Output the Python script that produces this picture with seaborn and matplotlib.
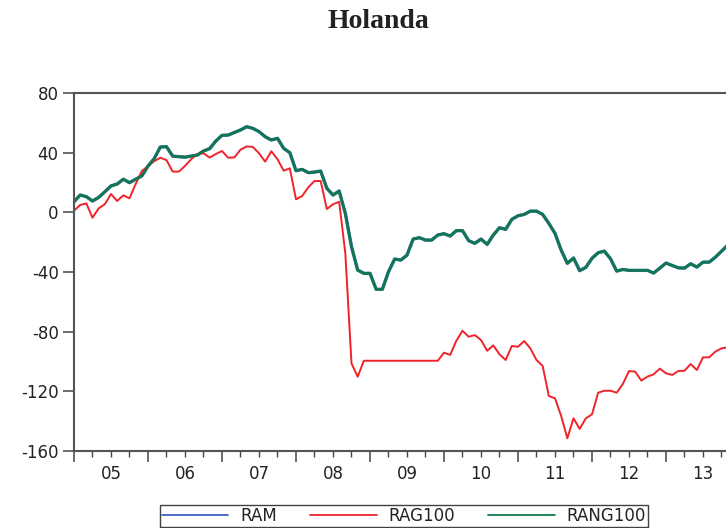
import numpy as np
import pandas as pd
import matplotlib
matplotlib.use("Agg")
import matplotlib.pyplot as plt
import seaborn as sns
from matplotlib.lines import Line2D
from matplotlib.ticker import FixedLocator, FuncFormatter

# ─────────────────────────────
# Data (monthly, starting 2005M01)
# ─────────────────────────────
START_YEAR = 2005

rang100 = [
    7.1, 11.6, 10.5, 7.6, 10.0, 13.8, 17.7, 19.0, 22.2, 19.9, 22.2, 24.4,
    31.0, 36.0, 43.8, 44.0, 37.7, 37.3, 37.0, 37.7, 38.4, 41.1, 42.7, 47.8,
    51.6, 51.8, 53.5, 55.2, 57.4, 56.3, 54.1, 50.7, 48.5, 49.6, 42.9, 40.0,
    27.9, 28.8, 26.6, 27.0, 27.7, 16.1, 11.6, 14.3, -0.7, -23.0, -38.7, -40.9,
    -40.9, -51.6, -51.6, -39.8, -31.3, -32.0, -28.7, -17.9, -17.0, -18.6, -18.6, -15.2,
    -14.3, -15.9, -12.3, -12.3, -19.0, -20.8, -17.9, -21.5, -15.2, -10.3, -11.4, -4.7,
    -2.3, -1.4, 0.8, 0.8, -1.4, -7.4, -14.1, -25.3, -34.2, -30.6, -39.1, -36.9,
    -30.8, -27.1, -26.0, -31.1, -39.4, -38.3, -38.9, -38.9, -38.9, -38.9, -40.7, -37.4,
    -34.0, -35.6, -37.2, -37.4, -34.5, -36.7, -33.4, -33.4, -30.1, -26.1, -22.0,
]

rag100 = [
    1.1, 4.9, 6.0, -3.6, 2.7, 5.4, 12.3, 7.6, 11.4, 9.4, 19.0, 27.7,
    31.0, 34.3, 36.6, 35.0, 27.3, 27.3, 31.1, 35.6, 39.1, 39.6, 36.7, 39.1,
    41.1, 36.6, 36.8, 42.0, 44.2, 43.8, 39.6, 34.0, 40.9, 35.6, 27.9, 29.5,
    8.7, 10.9, 16.8, 21.0, 21.0, 2.2, 5.4, 7.1, -27.5, -101.3, -110.2, -99.5,
    -99.5, -99.5, -99.5, -99.5, -99.5, -99.5, -99.5, -99.5, -99.5, -99.5, -99.5, -99.5,
    -94.1, -95.6, -86.1, -79.4, -83.4, -82.3, -85.6, -92.8, -89.2, -95.2, -99.0, -89.6,
    -90.1, -86.3, -91.2, -99.0, -103.0, -123.1, -124.7, -136.5, -151.5, -138.1, -145.2, -138.1,
    -135.4, -120.9, -119.6, -119.6, -120.9, -115.1, -106.4, -106.8, -112.8, -110.1, -108.6, -104.8,
    -107.9, -109.0, -106.4, -106.2, -101.7, -105.7, -97.2, -97.2, -93.4, -91.2, -90.5,
]

# RAM sits right under RANG100 in the source chart
ram = list(rang100)

series_names = ["RAM", "RAG100", "RANG100"]
year_labels = ["05", "06", "07", "08", "09", "10", "11", "12", "13"]
y_ticks = [80, 40, 0, -40, -80, -120, -160]

BLUE = "#3d5fc4"
RED = "#f0222a"
GREEN = "#0e7a48"

t = START_YEAR + np.arange(len(rang100)) / 12.0
df = pd.DataFrame({"t": t, "RAM": ram, "RAG100": rag100, "RANG100": rang100})

# ─────────────────────────────
# Plot
# ─────────────────────────────
sns.set_theme(style="white")
plt.rcParams["font.family"] = ["DejaVu Sans"]
plt.rcParams["axes.unicode_minus"] = False

fig = plt.figure(figsize=(7.26, 5.28), dpi=100)
ax = fig.add_axes([74 / 726, 1 - 451 / 528, 1 - 74 / 726, (451 - 93) / 528])

sns.lineplot(data=df, x="t", y="RAM", color=BLUE, linewidth=2.4, ax=ax)
sns.lineplot(data=df, x="t", y="RAG100", color=RED, linewidth=1.4, ax=ax)
sns.lineplot(data=df, x="t", y="RANG100", color=GREEN, linewidth=1.9, ax=ax)

ax.set_xlabel("")
ax.set_ylabel("")
ax.set_ylim(-160, 80)
ax.set_xlim(START_YEAR, START_YEAR + (726 - 74) / 74)

ax.set_yticks(y_ticks)
ax.set_yticklabels([str(v) for v in y_ticks])

years = [START_YEAR + i for i in range(len(year_labels))]
ax.xaxis.set_major_locator(FixedLocator(years + [years[-1] + 1]))
ax.xaxis.set_major_formatter(FuncFormatter(lambda x, pos: ""))
quarters = [y + q / 4 for y in years for q in (1, 2, 3)]
ax.xaxis.set_minor_locator(FixedLocator(quarters))
label_map = {y + 0.5: lab for y, lab in zip(years, year_labels)}
ax.xaxis.set_minor_formatter(
    FuncFormatter(lambda x, pos: label_map.get(round(x * 4) / 4, ""))
)

ax.tick_params(axis="y", which="major", left=True, direction="out", length=8,
               width=1.1, color="#444", labelcolor="#222", labelsize=12, pad=3)
ax.tick_params(axis="x", which="major", bottom=True, direction="out", length=8,
               width=1.1, color="#444")
ax.tick_params(axis="x", which="minor", bottom=True, direction="out", length=4,
               width=1.0, color="#444", labelcolor="#222", labelsize=12, pad=6)

for side in ["left", "top", "bottom"]:
    ax.spines[side].set_color("#555")
    ax.spines[side].set_linewidth(1.5)
ax.spines["right"].set_visible(False)

fig.text(378 / 726, 1 - 22 / 528, "Holanda", ha="center", va="center",
         fontsize=20, fontweight="bold", family="Liberation Serif", color="#222")

handles = [Line2D([], [], color=c, linewidth=1.3) for c in (BLUE, RED, GREEN)]
leg = fig.legend(handles, series_names, loc="upper center",
                 bbox_to_anchor=(404 / 726, 1 - 497 / 528), ncol=3,
                 frameon=True, fancybox=False, fontsize=12, handlelength=4.0,
                 handletextpad=0.7, columnspacing=2.0, borderpad=0.1)
leg.get_frame().set_edgecolor("#111")
leg.get_frame().set_linewidth(1.0)
for txt in leg.get_texts():
    txt.set_color("#222")

fig.savefig("out.png", dpi=100)
